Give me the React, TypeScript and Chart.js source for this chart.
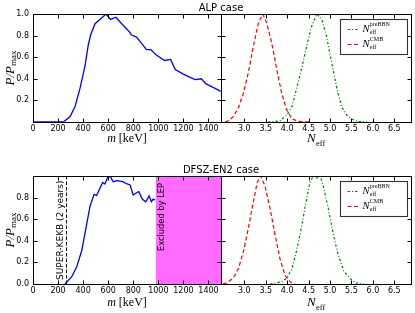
import React, { useEffect, useRef } from "react";
import { Chart, registerables } from "chart.js";

Chart.register(...registerables);

// ---------------- data ----------------
const massTicks = [0, 200, 400, 600, 800, 1000, 1200, 1400];
const neffTicks = [3.0, 3.5, 4.0, 4.5, 5.0, 5.5, 6.0, 6.5];
const probTicksTop = [0.2, 0.4, 0.6, 0.8, 1.0];
const probTicksBottom = [0.0, 0.2, 0.4, 0.6, 0.8];
const probTickMarks = [0.2, 0.4, 0.6, 0.8];

const massRange = [0, 1500];
const neffRange = [2.456, 6.889];

// ALP case, P/Pmax vs m [keV]
const alpMass = [0, 100, 200, 243, 296, 336, 376, 415, 442, 461, 495, 534, 582, 619, 662, 707, 733, 773, 786, 826, 865, 905, 939, 984, 1050, 1098, 1135, 1196, 1249, 1294, 1342, 1381, 1421, 1487, 1500];
const alpProb = [0, 0, 0, 0, 0.05, 0.146, 0.316, 0.52, 0.72, 0.81, 0.91, 0.95, 1.0, 0.95, 0.97, 0.91, 0.88, 0.83, 0.805, 0.786, 0.73, 0.67, 0.67, 0.62, 0.57, 0.58, 0.486, 0.446, 0.415, 0.393, 0.40, 0.353, 0.33, 0.29, 0.285];

// DFSZ-EN2 case
const dfszMass = [256, 310, 349, 389, 429, 455, 487, 508, 534, 556, 574, 600, 619, 640, 672, 715, 751, 775, 799, 826, 844, 873, 900, 926, 945, 958, 974];
const dfszProb = [0, 0.07, 0.16, 0.31, 0.56, 0.72, 0.83, 0.82, 0.886, 0.94, 0.926, 1.0, 0.988, 0.947, 0.957, 0.947, 0.926, 0.917, 0.824, 0.845, 0.855, 0.784, 0.762, 0.815, 0.762, 0.784, 0.778];

// N_eff distributions
const alpCmbNeff = [2.55, 2.65, 2.74, 2.86, 2.98, 3.09, 3.21, 3.33, 3.43, 3.52, 3.64, 3.76, 3.87, 3.99, 4.11, 4.26, 4.53];
const alpCmbProb = [0.0, 0.015, 0.05, 0.13, 0.27, 0.45, 0.70, 0.92, 1.0, 0.92, 0.73, 0.48, 0.27, 0.11, 0.03, 0.005, 0.0];
const alpBbnNeff = [3.55, 3.83, 3.99, 4.11, 4.22, 4.34, 4.46, 4.57, 4.69, 4.81, 4.92, 5.04, 5.16, 5.27, 5.39, 5.51, 5.66, 5.86];
const alpBbnProb = [0.0, 0.01, 0.065, 0.14, 0.31, 0.50, 0.715, 0.885, 1.0, 0.947, 0.79, 0.545, 0.31, 0.14, 0.065, 0.025, 0.005, 0.0];

const dfszCmbNeff = [2.5, 2.59, 2.74, 2.86, 2.98, 3.09, 3.21, 3.30, 3.38, 3.48, 3.60, 3.72, 3.83, 3.95, 4.07, 4.18];
const dfszCmbProb = [0.0, 0.01, 0.055, 0.14, 0.30, 0.51, 0.76, 0.94, 1.0, 0.91, 0.70, 0.45, 0.235, 0.08, 0.02, 0.0];
const dfszBbnNeff = [3.6, 3.87, 3.99, 4.11, 4.22, 4.34, 4.44, 4.53, 4.61, 4.69, 4.77, 4.84, 4.96, 5.08, 5.19, 5.32, 5.47, 5.6, 5.8];
const dfszBbnProb = [0.0, 0.02, 0.055, 0.14, 0.31, 0.54, 0.76, 0.94, 1.0, 0.98, 1.0, 0.91, 0.70, 0.45, 0.27, 0.12, 0.05, 0.01, 0.0];

const superKekbMass = 262;
const lepExclusionStart = 980;

const rowTitles = ["ALP case", "DFSZ-EN2 case"];
const superKekbLabel = "SUPER-KEKB (2 years)";
const lepLabel = "Excluded by LEP";

// ---------------- layout / style ----------------
const PAGE_W = 415;
const SPLIT = 221;
const SANS = '"DejaVu Sans", sans-serif';
const SERIF = '"Liberation Serif", "DejaVu Serif", serif';

const rows = [
  { top: 0, height: 157, areaTop: 14, areaBottom: 122, titleY: 8, xTitleBase: 19.5 },
  { top: 157, height: 156, areaTop: 19, areaBottom: 127, titleY: 13, xTitleBase: 21.5 },
];

const greenDash = [2.5, 2, 1, 2];
const redDash = [4, 2.5];

// ---------------- helpers ----------------
type Part = { t: string; font: string; dy: number };

function drawParts(ctx: any, parts: Part[], x: number, y: number, align: string) {
  let total = 0;
  const widths = parts.map((p) => {
    ctx.font = p.font;
    const w = ctx.measureText(p.t).width;
    total += w;
    return w;
  });
  let cx = align === "center" ? x - total / 2 : x;
  ctx.textAlign = "left";
  ctx.textBaseline = "alphabetic";
  parts.forEach((p, i) => {
    ctx.font = p.font;
    ctx.fillText(p.t, cx, y + p.dy);
    cx += widths[i];
  });
}

function drawScripted(ctx: any, x: number, y: number, base: string, sub: string, sup: string, baseSize: number, scriptSize: number, align: string) {
  const bf = `italic ${baseSize}px ${SERIF}`;
  const sf = `${scriptSize}px ${SERIF}`;
  ctx.font = bf;
  const wb = ctx.measureText(base).width;
  ctx.font = sf;
  const ws = Math.max(ctx.measureText(sub).width, sup ? ctx.measureText(sup).width : 0);
  const total = wb + ws;
  const sx = align === "center" ? x - total / 2 : x;
  ctx.textAlign = "left";
  ctx.textBaseline = "alphabetic";
  ctx.font = bf;
  ctx.fillText(base, sx, y);
  ctx.font = sf;
  ctx.fillText(sub, sx + wb + 0.3, y + baseSize * 0.28);
  if (sup) ctx.fillText(sup, sx + wb + 0.3, y - baseSize * 0.5);
}

function frameAndTicks(chart: any, xTickVals: number[], yTickVals: number[]) {
  const { ctx, chartArea: a, scales } = chart;
  const L = Math.round(a.left) + 0.5;
  const R = Math.round(a.right) + 0.5;
  const T = Math.round(a.top) + 0.5;
  const B = Math.round(a.bottom) + 0.5;
  ctx.save();
  ctx.setLineDash([]);
  ctx.strokeStyle = "#000";
  ctx.lineWidth = 1;
  ctx.beginPath();
  xTickVals.forEach((v) => {
    const px = Math.round(scales.x.getPixelForValue(v)) + 0.5;
    ctx.moveTo(px, B);
    ctx.lineTo(px, B - 4);
    ctx.moveTo(px, T);
    ctx.lineTo(px, T + 4);
  });
  yTickVals.forEach((v) => {
    const py = Math.round(scales.y.getPixelForValue(v)) + 0.5;
    ctx.moveTo(L, py);
    ctx.lineTo(L + 4, py);
    ctx.moveTo(R, py);
    ctx.lineTo(R - 4, py);
  });
  ctx.stroke();
  ctx.strokeRect(L, T, R - L, B - T);
  ctx.restore();
}

function hiddenGrid() {
  return { display: false, drawTicks: false, tickLength: 0 };
}

// ---------------- mass panels ----------------
function massConfig(r: number): any {
  const row = rows[r];
  const xs = r === 0 ? alpMass : dfszMass;
  const ys = r === 0 ? alpProb : dfszProb;
  const yLabels = r === 0 ? probTicksTop : probTicksBottom;
  return {
    type: "line",
    data: {
      datasets: [
        {
          data: xs.map((x, i) => ({ x, y: ys[i] })),
          borderColor: "#0000ff",
          borderWidth: 1.3,
          pointRadius: 0,
          tension: 0,
          fill: false,
        },
      ],
    },
    options: {
      responsive: false,
      animation: false,
      events: [],
      layout: { padding: { left: 0, top: row.areaTop, right: PAGE_W - SPLIT, bottom: 0 } },
      plugins: { legend: { display: false }, tooltip: { enabled: false } },
      scales: {
        x: {
          type: "linear",
          min: massRange[0],
          max: massRange[1],
          grid: hiddenGrid(),
          border: { display: false },
          afterBuildTicks: (s: any) => {
            s.ticks = massTicks.map((v) => ({ value: v }));
          },
          afterFit: (s: any) => {
            s.height = row.height - row.areaBottom;
          },
          ticks: {
            font: { family: SANS, size: 8 },
            color: "#000",
            padding: 2,
            maxRotation: 0,
            autoSkip: false,
            callback: (v: any) => String(v),
          },
        },
        y: {
          type: "linear",
          min: 0,
          max: 1,
          grid: hiddenGrid(),
          border: { display: false },
          afterBuildTicks: (s: any) => {
            s.ticks = yLabels.map((v) => ({ value: v }));
          },
          afterFit: (s: any) => {
            s.width = 33;
          },
          ticks: {
            font: { family: SANS, size: 8 },
            color: "#000",
            padding: 4,
            autoSkip: false,
            callback: (v: any) => Number(v).toFixed(1),
          },
        },
      },
    },
    plugins: [
      {
        id: "massDecor" + r,
        beforeDatasetsDraw(chart: any) {
          if (r !== 1) return;
          const { ctx, chartArea: a, scales } = chart;
          const x0 = scales.x.getPixelForValue(lepExclusionStart);
          const x1 = scales.x.getPixelForValue(massRange[1]);
          ctx.save();
          ctx.fillStyle = "rgba(255, 0, 255, 0.58)";
          ctx.fillRect(x0, a.top, x1 - x0, a.bottom - a.top);
          // SUPER-KEKB dashed line
          const xl = Math.round(scales.x.getPixelForValue(superKekbMass)) + 0.5;
          ctx.strokeStyle = "#000";
          ctx.lineWidth = 1;
          ctx.setLineDash([3.5, 2]);
          ctx.beginPath();
          ctx.moveTo(xl, scales.y.getPixelForValue(0));
          ctx.lineTo(xl, scales.y.getPixelForValue(1));
          ctx.stroke();
          ctx.setLineDash([]);
          ctx.fillStyle = "#000";
          // SUPER-KEKB label (reads upward, left of the line)
          ctx.save();
          ctx.translate(xl - 1.5, a.bottom - 4);
          ctx.rotate(-Math.PI / 2);
          ctx.font = `9px ${SANS}`;
          ctx.textAlign = "left";
          ctx.textBaseline = "bottom";
          ctx.fillText(superKekbLabel, 0, 0);
          ctx.restore();
          // LEP label
          ctx.save();
          ctx.translate(x0 + 1.5, a.top + 7);
          ctx.rotate(-Math.PI / 2);
          ctx.font = `8.3px ${SANS}`;
          ctx.textAlign = "right";
          ctx.textBaseline = "top";
          ctx.fillText(lepLabel, 0, 0);
          ctx.restore();
          ctx.restore();
        },
        afterDatasetsDraw(chart: any) {
          const { ctx, chartArea: a } = chart;
          frameAndTicks(chart, massTicks, probTickMarks);
          ctx.save();
          ctx.fillStyle = "#000";
          // row title
          ctx.font = `10px ${SANS}`;
          ctx.textAlign = "center";
          ctx.textBaseline = "middle";
          ctx.fillText(rowTitles[r], SPLIT, row.titleY);
          // x title  m [keV]
          drawParts(
            ctx,
            [
              { t: "m", font: `italic 12px ${SERIF}`, dy: 0 },
              { t: " [keV]", font: `12px ${SERIF}`, dy: 0 },
            ],
            (a.left + a.right) / 2,
            a.bottom + row.xTitleBase,
            "center"
          );
          // y title  P/P_max
          ctx.save();
          ctx.translate(13.5, (a.top + a.bottom) / 2);
          ctx.rotate(-Math.PI / 2);
          drawParts(
            ctx,
            [
              { t: "P/P", font: `italic 13px ${SERIF}`, dy: 0 },
              { t: "max", font: `9px ${SERIF}`, dy: 2.5 },
            ],
            0,
            0,
            "center"
          );
          ctx.restore();
          ctx.restore();
        },
      },
    ],
  };
}

// ---------------- N_eff panels ----------------
function neffConfig(r: number): any {
  const row = rows[r];
  const bbnX = r === 0 ? alpBbnNeff : dfszBbnNeff;
  const bbnY = r === 0 ? alpBbnProb : dfszBbnProb;
  const cmbX = r === 0 ? alpCmbNeff : dfszCmbNeff;
  const cmbY = r === 0 ? alpCmbProb : dfszCmbProb;
  const canvasW = PAGE_W - SPLIT;
  return {
    type: "line",
    data: {
      datasets: [
        {
          label: "preBBN",
          data: bbnX.map((x, i) => ({ x, y: bbnY[i] })),
          borderColor: "#008000",
          borderWidth: 1.2,
          borderDash: greenDash,
          pointRadius: 0,
          tension: 0,
          fill: false,
        },
        {
          label: "CMB",
          data: cmbX.map((x, i) => ({ x, y: cmbY[i] })),
          borderColor: "#ff0000",
          borderWidth: 1.2,
          borderDash: redDash,
          pointRadius: 0,
          tension: 0,
          fill: false,
        },
      ],
    },
    options: {
      responsive: false,
      animation: false,
      events: [],
      layout: { padding: { left: 0, top: row.areaTop, right: canvasW - 190, bottom: 0 } },
      plugins: { legend: { display: false }, tooltip: { enabled: false } },
      scales: {
        x: {
          type: "linear",
          min: neffRange[0],
          max: neffRange[1],
          grid: hiddenGrid(),
          border: { display: false },
          afterBuildTicks: (s: any) => {
            s.ticks = neffTicks.map((v) => ({ value: v }));
          },
          afterFit: (s: any) => {
            s.height = row.height - row.areaBottom;
          },
          ticks: {
            font: { family: SANS, size: 8 },
            color: "#000",
            padding: 2,
            maxRotation: 0,
            autoSkip: false,
            callback: (v: any) => Number(v).toFixed(1),
          },
        },
        y: {
          type: "linear",
          display: false,
          min: 0,
          max: 1,
        },
      },
    },
    plugins: [
      {
        id: "neffDecor" + r,
        afterDatasetsDraw(chart: any) {
          const { ctx, chartArea: a } = chart;
          frameAndTicks(chart, neffTicks, probTickMarks);
          ctx.save();
          ctx.fillStyle = "#000";
          drawScripted(ctx, (a.left + a.right) / 2, a.bottom + row.xTitleBase + 0.5, "N", "eff", "", 13, 8.5, "center");
          // legend
          const bx = Math.round(a.right - 71) + 0.5;
          const by = Math.round(a.top + 4.5) + 0.5;
          const bw = 67;
          const bh = 35;
          ctx.fillStyle = "#fff";
          ctx.fillRect(bx, by, bw, bh);
          ctx.strokeStyle = "#333";
          ctx.lineWidth = 1.1;
          ctx.strokeRect(bx, by, bw, bh);
          const items = [
            { sup: "preBBN", color: "#008000", dash: greenDash },
            { sup: "CMB", color: "#ff0000", dash: redDash },
          ];
          items.forEach((it, i) => {
            const yy = by + 10 + i * 15;
            ctx.strokeStyle = it.color;
            ctx.lineWidth = 1.2;
            ctx.setLineDash(it.dash);
            ctx.beginPath();
            ctx.moveTo(bx + 7, yy);
            ctx.lineTo(bx + 19, yy);
            ctx.stroke();
            ctx.setLineDash([]);
            ctx.fillStyle = "#000";
            drawScripted(ctx, bx + 22, yy + 2, "N", "eff", it.sup, 10.5, 6, "left");
          });
          ctx.restore();
        },
      },
    ],
  };
}

// ---------------- components ----------------
function ChartCanvas(props: { left: number; top: number; width: number; height: number; build: () => any }) {
  const ref = useRef<HTMLCanvasElement>(null);
  useEffect(() => {
    const chart = new Chart(ref.current as HTMLCanvasElement, props.build());
    return () => chart.destroy();
  }, []);
  return (
    <canvas
      ref={ref}
      width={props.width}
      height={props.height}
      style={{ position: "absolute", left: props.left, top: props.top, width: props.width, height: props.height }}
    />
  );
}

export default function App() {
  return (
    <div style={{ position: "absolute", left: 0, top: 0, width: 415, height: 313, background: "#fff", overflow: "hidden" }}>
      <ChartCanvas left={0} top={rows[0].top} width={PAGE_W} height={rows[0].height} build={() => massConfig(0)} />
      <ChartCanvas left={SPLIT} top={rows[0].top} width={PAGE_W - SPLIT} height={rows[0].height} build={() => neffConfig(0)} />
      <ChartCanvas left={0} top={rows[1].top} width={PAGE_W} height={rows[1].height} build={() => massConfig(1)} />
      <ChartCanvas left={SPLIT} top={rows[1].top} width={PAGE_W - SPLIT} height={rows[1].height} build={() => neffConfig(1)} />
    </div>
  );
}
